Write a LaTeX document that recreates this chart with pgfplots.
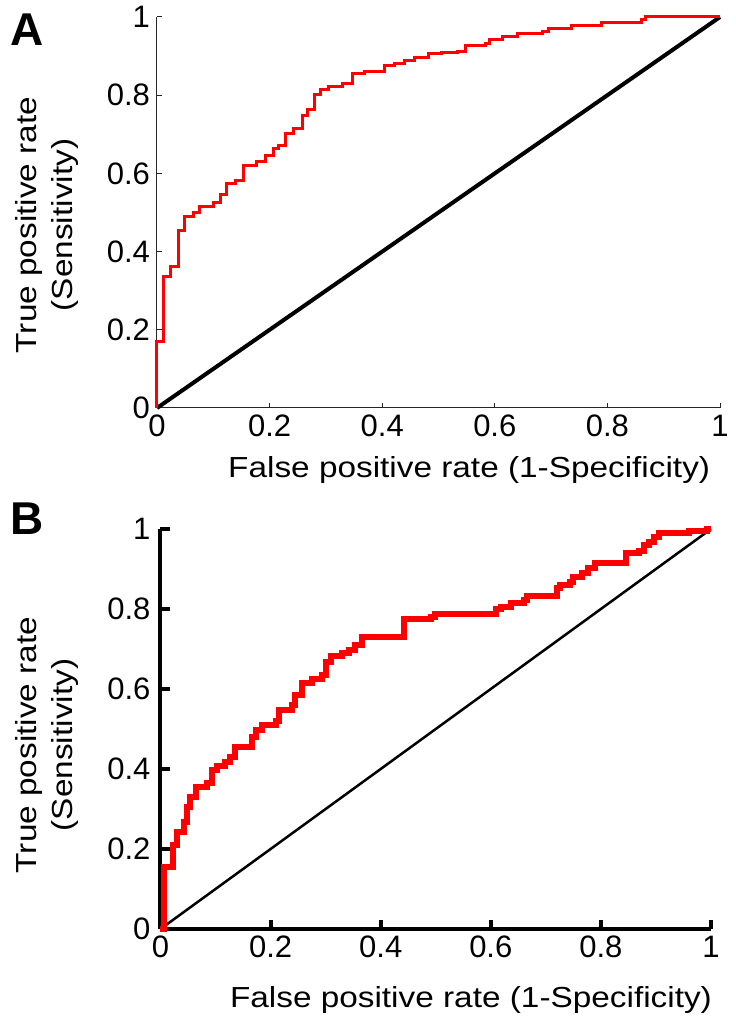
\documentclass[border=0pt]{standalone}
\usepackage{fontspec}
\setmainfont{Liberation Sans}
\newfontfamily\labfont{Liberation Sans}[FakeStretch=1.15]
\usepackage{pgfplots}
\pgfplotsset{compat=1.18}

\pgfplotstableread{
x y
0 0
0 0.17
0.011 0.336
0.024 0.362
0.0375 0.453
0.049 0.489
0.064 0.500
0.076 0.515
0.100 0.525
0.112 0.546
0.124 0.573
0.139 0.583
0.154 0.619
0.177 0.630
0.192 0.645
0.207 0.664
0.216 0.671
0.228 0.702
0.242 0.715
0.258 0.749
0.267 0.764
0.279 0.803
0.290 0.814
0.305 0.823
0.329 0.830
0.347 0.855
0.368 0.861
0.404 0.877
0.421 0.881
0.439 0.888
0.457 0.896
0.483 0.906
0.505 0.908
0.533 0.913
0.548 0.928
0.584 0.932
0.590 0.942
0.613 0.949
0.640 0.958
0.684 0.964
0.695 0.970
0.737 0.978
0.790 0.985
0.861 0.993
0.867 1.000
1 1
}\rocA

\pgfplotstableread{
x y
0 0
0.006 0.156
0.022 0.210
0.030 0.243
0.042 0.268
0.048 0.306
0.054 0.329
0.064 0.356
0.085 0.364
0.094 0.397
0.103 0.407
0.118 0.418
0.127 0.431
0.136 0.456
0.166 0.480
0.173 0.4975
0.185 0.510
0.209 0.520
0.215 0.5475
0.239 0.560
0.245 0.585
0.257 0.614
0.275 0.624
0.294 0.635
0.300 0.668
0.309 0.6825
0.330 0.690
0.342 0.6975
0.354 0.710
0.366 0.729
0.4415 0.774
0.492 0.781
0.498 0.787
0.609 0.800
0.618 0.805
0.636 0.814
0.660 0.8225
0.666 0.8325
0.720 0.852
0.726 0.860
0.744 0.868
0.750 0.881
0.765 0.891
0.777 0.902
0.789 0.916
0.846 0.939
0.870 0.946
0.879 0.960
0.888 0.968
0.897 0.979
0.906 0.989
0.960 0.996
0.993 1.000
1 1
}\rocB

\pgfplotstableread{
x y
0 0
1 1
}\diag

\pgfplotsset{
  rocstyle/.style={
    scale only axis,
    xmin=0, xmax=1, ymin=0, ymax=1,
    axis lines=left,
    axis line style={-},
    tick align=inside,
    xtick={0,0.2,0.4,0.6,0.8,1},
    ytick={0,0.2,0.4,0.6,0.8,1},
    /pgf/number format/assume math mode=true,
    tick label style={font=\fontsize{15.5}{18}\selectfont},
    label style={font=\labfont\fontsize{14.5}{18}\selectfont},
    xlabel={False positive rate (1-Specificity)},
    ylabel={True positive rate\\(Sensitivity)},
    clip=false,
  }
}

\begin{document}
\begin{tikzpicture}
\path[use as bounding box] (0,0) rectangle (367.5pt,512pt);

\node[anchor=north west, inner sep=0pt, font=\bfseries\fontsize{23}{26}\selectfont] at (5pt,505.5pt) {A};
\node[anchor=north west, inner sep=0pt, font=\bfseries\fontsize{23}{26}\selectfont] at (5pt,261pt) {B};

% Panel A
\begin{axis}[rocstyle,
  at={(78.5pt,308pt)}, anchor=south west,
  width=281.5pt, height=195.5pt,
  axis line style={-, line width=0.5pt, black!85},
  major tick length=2.5pt,
  major tick style={line width=0.5pt, black!85},
  xlabel style={at={(axis description cs:0.995,-0.1765)}, anchor=base east},
  ylabel style={at={(axis description cs:-0.195,0.468)}, anchor=center, rotate=0, align=center},
]
\addplot[black, line width=2pt] table[x=x,y=y] {\diag};
\addplot[red, line width=1.5pt, const plot] table[x=x,y=y] {\rocA};
\end{axis}

% Panel B
\begin{axis}[rocstyle,
  at={(80.25pt,47.5pt)}, anchor=south west,
  width=275.25pt, height=200pt,
  axis line style={-, line width=2pt, black},
  major tick length=4.5pt,
  major tick style={line width=2pt, black},
  yticklabel style={xshift=-1.5pt},
  xlabel style={at={(axis description cs:1.0145,-0.195)}, anchor=base east},
  ylabel style={at={(axis description cs:-0.206,0.46)}, anchor=center, rotate=0, align=center},
]
\addplot[black, line width=1.25pt] table[x=x,y=y] {\diag};
\addplot[red, line width=3pt, const plot] table[x=x,y=y] {\rocB};
\end{axis}
\end{tikzpicture}
\end{document}
